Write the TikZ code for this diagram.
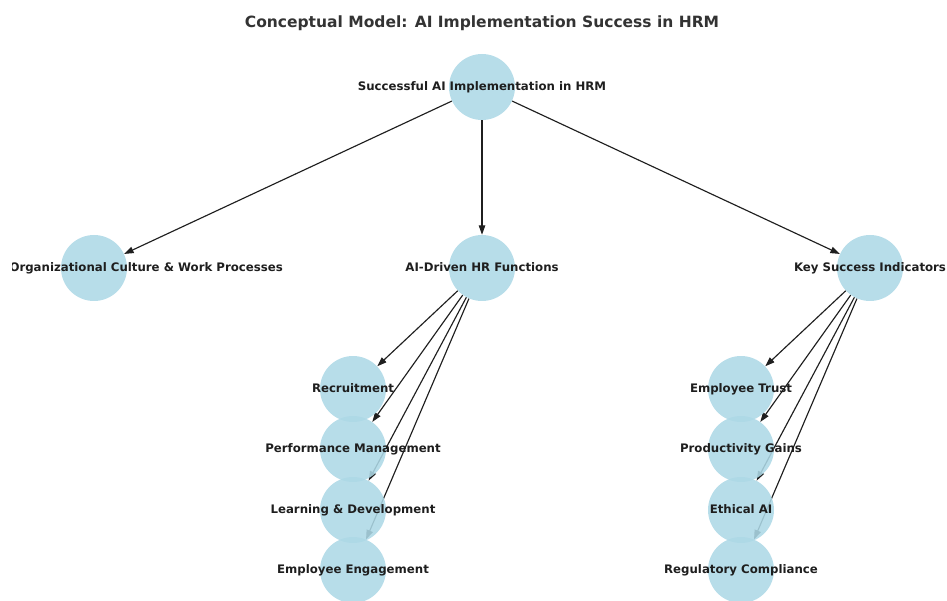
\documentclass[tikz,border=0pt]{standalone}
\usepackage{fontspec}
\setmainfont{DejaVu Sans}
\usetikzlibrary{arrows.meta, positioning, backgrounds}

\definecolor{nodeblue}{HTML}{ADD8E6}
\definecolor{titlegray}{HTML}{333333}
\definecolor{labelgray}{HTML}{1E1E1E}

\begin{document}
\begin{tikzpicture}[
    x=1pt, y=-1pt,
    every node/.style={font=\bfseries},
    concept/.style={
        circle,
        minimum size=66pt,
        inner sep=0pt,
        fill=nodeblue,
        fill opacity=0.88,
        draw=none
    },
    caption/.style={
        font=\bfseries\fontsize{11.75}{14}\selectfont,
        text=labelgray,
        inner sep=0pt,
        text height=0.73em,
        text depth=0pt
    },
    arrow/.style={-{Triangle[length=9.5pt,width=6.5pt]}, line width=1.15pt, draw=black!88}
]
    \useasboundingbox (0,0) rectangle (947,601);
    \clip (0,0) rectangle (947,601);

    % Title
    \node (title) [font=\bfseries\fontsize{15.5}{18}\selectfont, text=titlegray] at (482,23)
        {Conceptual Model: AI Implementation Success in HRM};

    % Define nodes
    \node (root) [concept] at (482,87) {};

    \node (culture) [concept] at (94,268) {};
    \node (hrfunc) [concept] at (482,268) {};
    \node (ksi) [concept] at (870,268) {};

    \node (recruit) [concept] at (353,389) {};
    \node (perform) [concept] at (353,449) {};
    \node (learn) [concept] at (353,510) {};
    \node (engage) [concept] at (353,570) {};

    \node (trust) [concept] at (741,389) {};
    \node (product) [concept] at (741,449) {};
    \node (ethics) [concept] at (741,510) {};
    \node (comply) [concept] at (741,570) {};

    % Draw connections (behind the circles)
    \begin{scope}[on background layer]
        \draw [arrow] (root) -- (culture);
        \draw [arrow] (root) -- (hrfunc);
        \draw [arrow] (root) -- (ksi);

        \draw [arrow] (hrfunc) -- (recruit);
        \draw [arrow] (hrfunc) -- (perform);
        \draw [arrow] (hrfunc) -- (learn);
        \draw [arrow] (hrfunc) -- (engage);

        \draw [arrow] (ksi) -- (trust);
        \draw [arrow] (ksi) -- (product);
        \draw [arrow] (ksi) -- (ethics);
        \draw [arrow] (ksi) -- (comply);
    \end{scope}

    % Labels on top
    \node (root-txt) [caption] at (root) {Successful AI Implementation in HRM};
    \node (hrfunc-txt) [caption] at (hrfunc) {AI-Driven HR Functions};
    \node (ksi-txt) [caption] at (ksi) {Key Success Indicators};
    \begin{scope}
        \clip (12,240) rectangle (300,300);
        \node (culture-txt) [caption, anchor=east] at (283,268) {Organizational Culture \& Work Processes};
    \end{scope}

    \node (recruit-txt) [caption] at (recruit) {Recruitment};
    \node (perform-txt) [caption] at (perform) {Performance Management};
    \node (learn-txt) [caption] at (learn) {Learning \& Development};
    \node (engage-txt) [caption] at (engage) {Employee Engagement};

    \node (trust-txt) [caption] at (trust) {Employee Trust};
    \node (product-txt) [caption] at (product) {Productivity Gains};
    \node (ethics-txt) [caption] at (ethics) {Ethical AI};
    \node (comply-txt) [caption] at (comply) {Regulatory Compliance};

\end{tikzpicture}
\end{document}
